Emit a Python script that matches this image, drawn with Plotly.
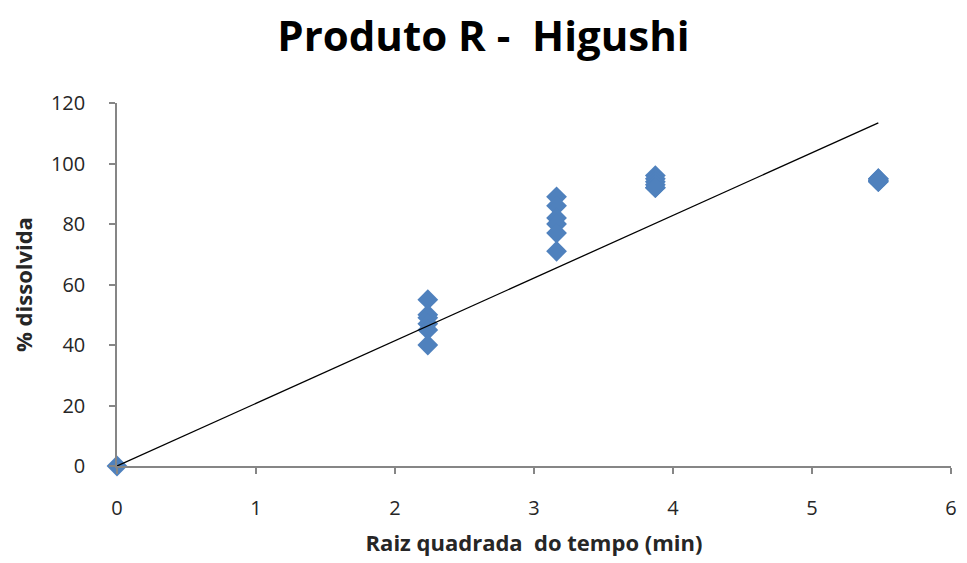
import numpy as np
import plotly.graph_objects as go

# Dissolution replicates at each sampling time (min) and % dissolved
tempo_min = [0, 5, 5, 5, 5, 5, 5, 10, 10, 10, 10, 10, 10,
             15, 15, 15, 15, 15, 15, 30, 30, 30, 30, 30, 30]
pct_dissolvida = [0, 55, 50, 49, 47, 45, 40, 89, 86, 82, 80, 77, 71,
                  96, 95, 94, 93, 92, 92, 95, 94.5, 94, 95, 94, 94.5]

x_vals = np.sqrt(np.array(tempo_min, dtype=float))
y_vals = np.array(pct_dissolvida, dtype=float)

# Higuchi model: linear fit through the origin
slope = float(np.sum(x_vals * y_vals) / np.sum(x_vals ** 2))
x_fit = np.array([0.0, x_vals.max()])
y_fit = slope * x_fit

x_ticks = [0, 1, 2, 3, 4, 5, 6]
y_ticks = [0, 20, 40, 60, 80, 100, 120]

fig = go.Figure()
fig.add_trace(go.Scatter(
    x=x_vals, y=y_vals, mode="markers",
    marker=dict(symbol="diamond", size=16, color="#4F81BD",
                line=dict(width=0)),
    cliponaxis=False, showlegend=False,
))
fig.add_trace(go.Scatter(
    x=x_fit, y=y_fit, mode="lines",
    line=dict(color="#000000", width=1.3),
    cliponaxis=False, showlegend=False,
))

axis_common = dict(
    showgrid=False, zeroline=False, showline=True,
    linecolor="#868686", linewidth=1.5,
    ticks="outside", ticklen=6, tickcolor="#868686", tickwidth=1.5,
    tickfont=dict(family="Open Sans", size=20, color="#262626"),
)

fig.update_layout(
    width=967, height=563,
    margin=dict(l=117, r=10, t=103, b=97),
    paper_bgcolor="white", plot_bgcolor="white",
    title=dict(text="<b>Produto R -  Higushi</b>", x=0.5, xanchor="center",
               y=0.935, yanchor="middle",
               font=dict(family="Open Sans", size=42, color="#000000")),
    xaxis=dict(range=[0, 6], tickvals=x_ticks, ticklabelstandoff=17,
               title=dict(text="<b>Raiz quadrada&nbsp; do tempo (min)</b>", standoff=16,
                          font=dict(family="Open Sans", size=22, color="#262626")),
               **axis_common),
    yaxis=dict(range=[0, 120], tickvals=y_ticks, ticklabelstandoff=20,
               title=dict(text="<b>% dissolvida</b>", standoff=12,
                          font=dict(family="Open Sans", size=22, color="#262626")),
               **axis_common),
)

fig.write_html("out.html")
